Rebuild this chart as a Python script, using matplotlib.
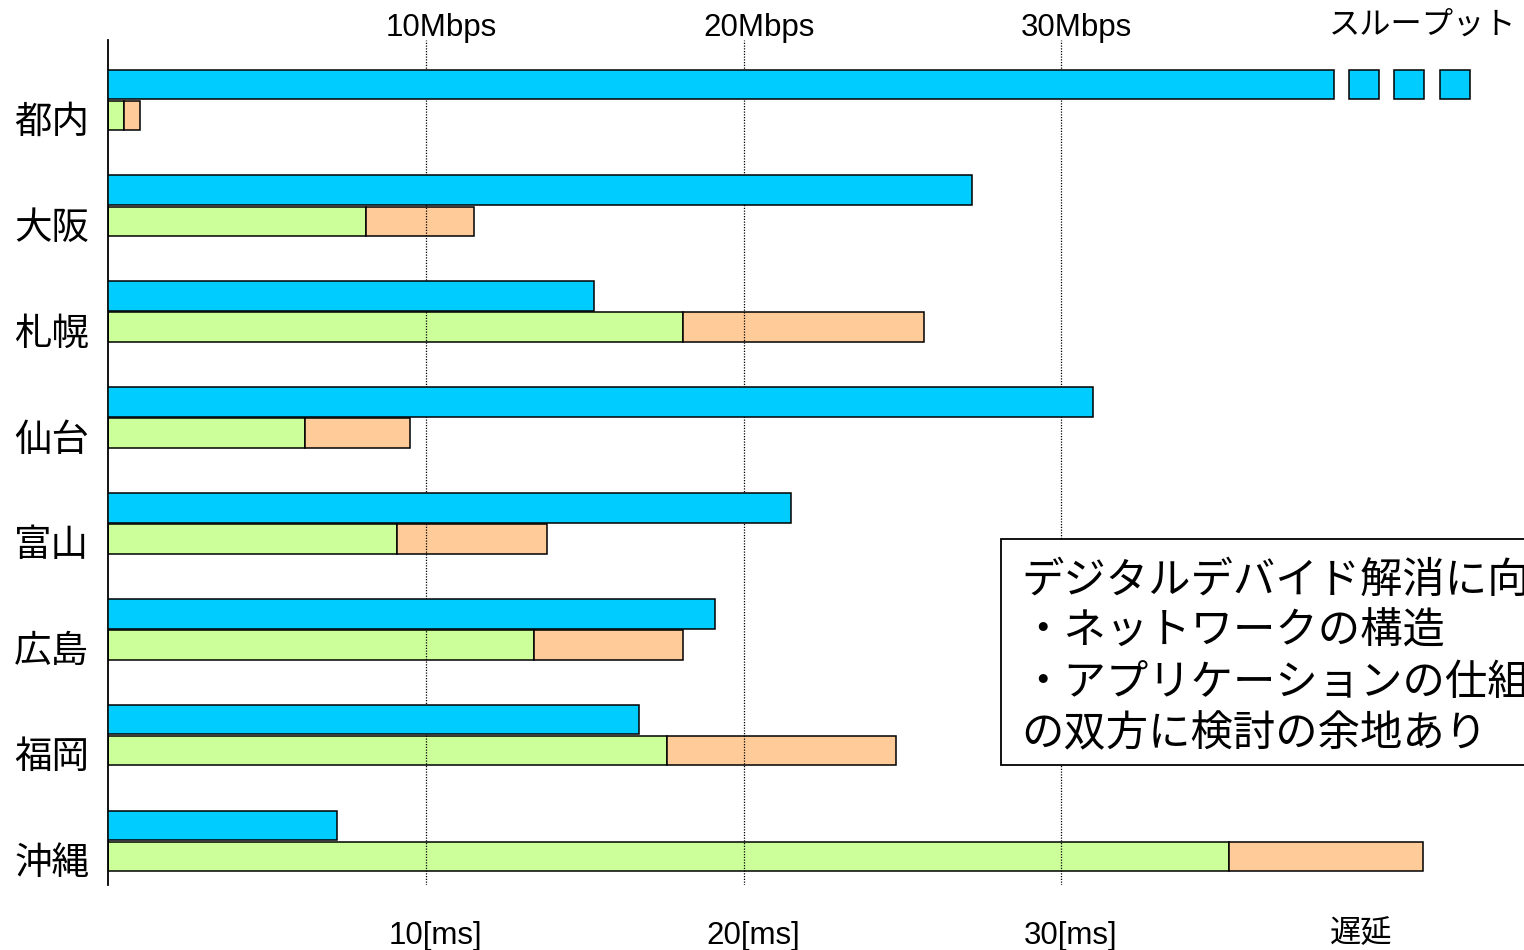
import matplotlib
matplotlib.use("Agg")
import numpy as np
import matplotlib.pyplot as plt
from matplotlib.patches import Rectangle
from matplotlib import transforms

plt.rcParams['font.family'] = ['Liberation Sans', 'Noto Sans CJK JP']

regions = ['都内', '大阪', '札幌', '仙台', '富山', '広島', '福岡', '沖縄']
throughput = [38.6, 27.2, 15.3, 31.0, 21.5, 19.1, 16.7, 7.2]      # Mbps
latency_base = [0.5, 8.1, 18.1, 6.2, 9.1, 13.4, 17.6, 35.3]       # ms
latency_extra = [0.5, 3.4, 7.6, 3.3, 4.7, 4.7, 7.2, 6.1]          # ms
grid_vals = [10, 20, 30]
top_labels = ['10Mbps', '20Mbps', '30Mbps']
bottom_labels = ['10[ms]', '20[ms]', '30[ms]']
note_lines = ['デジタルデバイド解消に向けて',
              '・ネットワークの構造',
              '・アプリケーションの仕組み',
              'の双方に検討の余地あり']

blue = '#00CCFF'
green = '#CCFF99'
orange = '#FFCC99'

W, H = 1524, 950
fig = plt.figure(figsize=(W / 100, H / 100), dpi=100)
ax = fig.add_axes([108.5 / W, 1 - 885 / H, 1 - 108.5 / W, 845 / H])

y = np.arange(len(regions))
off = 0.147
bh = 0.28
ax.barh(y - off, throughput, height=bh, color=blue, edgecolor='black', linewidth=1.1, zorder=3)
ax.barh(y + off, latency_base, height=bh, color=green, edgecolor='black', linewidth=1.1, zorder=2)
ax.barh(y + off, latency_extra, left=latency_base, height=bh, color=orange,
        edgecolor='black', linewidth=1.1, zorder=2)

# "continues" squares after the truncated 都内 bar
sq_w = 0.945
sq_start = throughput[0] + 0.47 + np.arange(3) * 1.43
ax.barh([y[0] - off] * 3, [sq_w] * 3, left=sq_start, height=bh, color=blue,
        edgecolor='black', linewidth=1.1, zorder=3)

for g in grid_vals:
    ax.axvline(g, color='black', linestyle=(0, (1, 1.2)), linewidth=0.9, zorder=2.5)

ax.set_xlim(0, (W - 108.5) / 31.75)
ax.set_ylim(len(regions) - 1 + 0.416, -0.567)

ax.set_xticks([])
ax.set_yticks(y + 0.18)
ax.set_yticklabels(regions, fontsize=27)
ax.tick_params(axis='y', length=0, pad=14)
for s in ['top', 'right', 'bottom']:
    ax.spines[s].set_visible(False)
ax.spines['left'].set_linewidth(1.3)

top_tr = transforms.offset_copy(ax.get_xaxis_transform(), fig=fig, x=11, units='points')
bot_tr = transforms.offset_copy(ax.get_xaxis_transform(), fig=fig, x=7, units='points')
for g, tl, bl in zip(grid_vals, top_labels, bottom_labels):
    ax.text(g, 1 + 12 / 845, tl, transform=top_tr, ha='center', va='center', fontsize=22.5)
    ax.text(g, -51 / 845, bl, transform=bot_tr, ha='center', va='center', fontsize=22.5)

fig.text(1423 / W, 1 - 26 / H, 'スループット', ha='center', va='center', fontsize=22.5)
fig.text(1361 / W, 1 - 934 / H, '遅延', ha='center', va='center', fontsize=22.5)

# note box (runs off the right edge as in the original slide)
box = Rectangle((1001 / W, 1 - 765 / H), 0.5, 226 / H, transform=fig.transFigure,
                facecolor='white', edgecolor='black', linewidth=1.3, zorder=5)
fig.add_artist(box)
for i, line in enumerate(note_lines):
    fig.text(1021 / W, 1 - (582 + 51 * i) / H, line, ha='left', va='center',
             fontsize=30.5, zorder=6)

fig.savefig('out.png', dpi=100)
